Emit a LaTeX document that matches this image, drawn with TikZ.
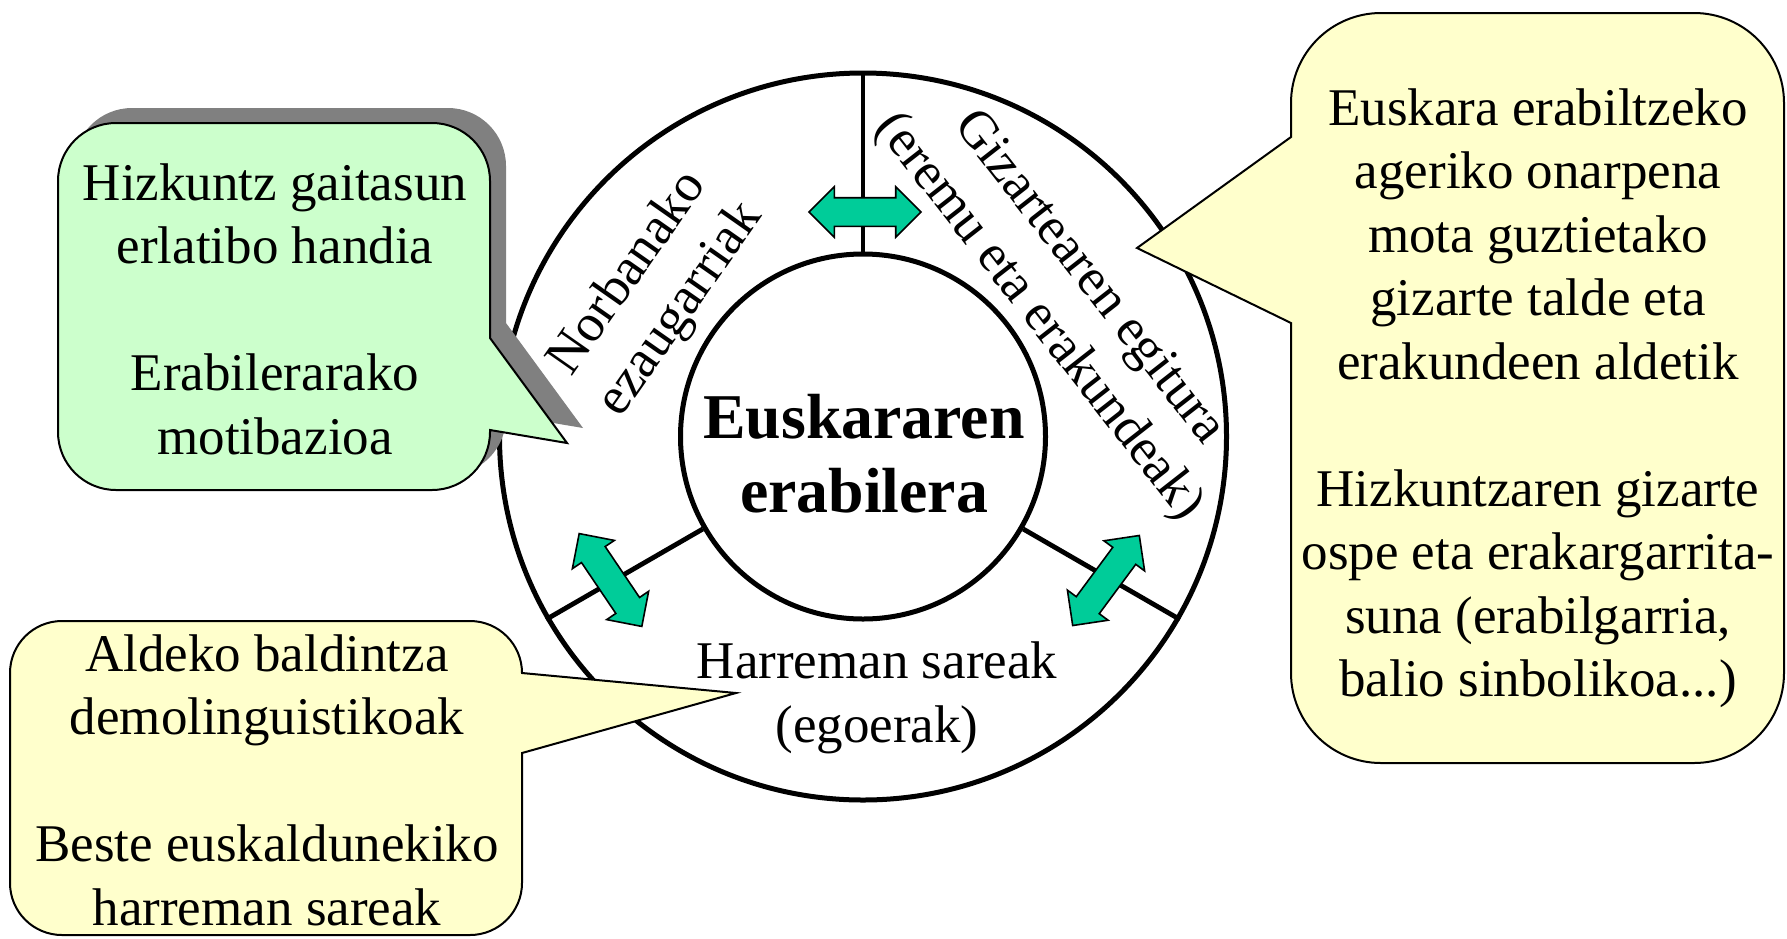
\documentclass[tikz,border=0pt]{standalone}
\usepackage{fontspec}
\setmainfont{Liberation Serif}
\usetikzlibrary{shapes.arrows, shadows, positioning}
\definecolor{bubblegreen}{HTML}{CCFFCC}
\definecolor{bubbleyellow}{HTML}{FFFFCC}
\definecolor{arrowgreen}{HTML}{00CC99}
\definecolor{shadowgrey}{HTML}{808080}
\tikzset{
	ring/.style={draw, circle, line width=2.5pt, inner sep=0pt},
	divider/.style={line width=2.4pt},
	bubble/.style={draw, line width=1pt},
	boxtext/.style={align=center, inner sep=0pt, font=\fontsize{26.5pt}{31.75pt}\selectfont},
	linkarrow/.style={double arrow, draw, line width=0.8pt, fill=arrowgreen, inner xsep=0pt, inner ysep=6.75pt, minimum height=56pt, minimum width=24.5pt, double arrow head extend=5.5pt}
}

\begin{document}
\begin{tikzpicture}[x=0.5pt, y=-0.5pt]
		\useasboundingbox (0,0) rectangle (1787,938);
		
		\node[ring, minimum size=363.5pt] (outer) at (863,436.5) {};
		\node[ring, minimum size=182.5pt] (inner) at (863,436.5) {};
		
		\draw[divider] (inner.90) -- (outer.90);
		\draw[divider] (inner.210) -- (outer.210);
		\draw[divider] (inner.330) -- (outer.330);
		
		\node[linkarrow] (toparrow) at (865,212) {};
		\node[linkarrow, rotate=124] (leftarrow) at (610.5,580) {};
		\node[linkarrow, rotate=53.5] (rightarrow) at (1106,580.5) {};
		
		\node[boxtext, font=\fontsize{31.9pt}{37pt}\selectfont\bfseries] (usage) at (864,454) {Euskararen\\erabilera};
		\node[boxtext, rotate=55] (personal) at (655,292) {Norbanako\\ezaugarriak};
		\node[boxtext, rotate=-52] (society) at (1063,298) {Gizartearen egitura\\(eremu eta erakundeak)};
		\node[boxtext] (networks) at (877,698) {Harreman sareak\\(egoerak)};
		
		% bocadillos
		\draw[bubble, fill=bubblegreen, drop shadow={shadow xshift=8pt, shadow yshift=7.5pt, fill=shadowgrey, opacity=1}]
			(567,443) -- (490,430) [rounded corners=29pt] -- (490,490) -- (58,490) -- (58,123) -- (490,123) [sharp corners] -- (490,338) -- cycle;
		\node[boxtext] (ability) at (275,309) {Hizkuntz gaitasun\\erlatibo handia\\[31.75pt]Erabilerarako\\motibazioa};
		
		\draw[bubble, fill=bubbleyellow]
			(1137,248) -- (1291,323) [rounded corners=45pt] -- (1291,763) -- (1784,763) -- (1784,13) -- (1291,13) [sharp corners] -- (1291,137) -- cycle;
		\node[boxtext] (acceptance) at (1538,398) {Euskara erabiltzeko\\ageriko onarpena\\mota guztietako\\gizarte talde eta\\erakundeen aldetik\\[31.75pt]Hizkuntzaren gizarte\\ospe eta erakargarrita-\\suna (erabilgarria,\\balio sinbolikoa...)};
		
		\draw[bubble, fill=bubbleyellow]
			(736,693) -- (522,753) [rounded corners=26pt] -- (522,935) -- (10,935) -- (10,621) -- (522,621) [sharp corners] -- (522,673) -- cycle;
		\node[boxtext] (demography) at (267,780) {Aldeko baldintza\\demolinguistikoak\\[31.75pt]Beste euskaldunekiko\\harreman sareak};
	\end{tikzpicture}
\end{document}
